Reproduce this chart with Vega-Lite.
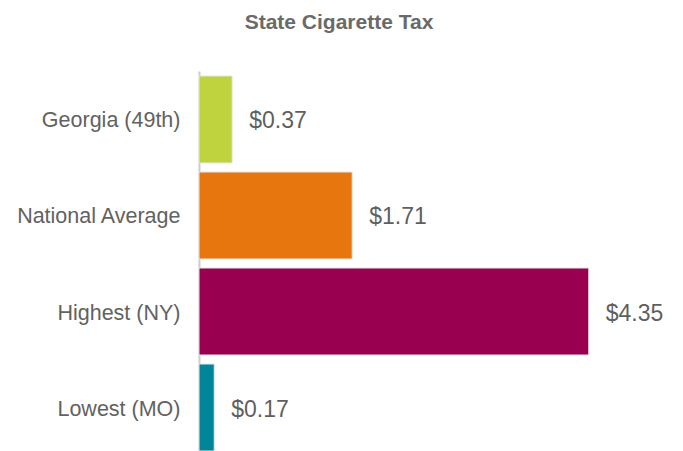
{
  "$schema": "https://vega.github.io/schema/vega-lite/v6.json",
  "autosize": {"type": "none"},
  "padding": {"left": 199, "top": 71, "right": 36, "bottom": 0},
  "width": 448,
  "height": 380,
  "background": "white",
  "title": {
    "text": "State Cigarette Tax",
    "anchor": "middle",
    "frame": "group",
    "dx": -84,
    "offset": 38,
    "font": "Liberation Sans",
    "fontSize": 21,
    "fontWeight": "bold",
    "color": "#6a6a6a"
  },
  "data": {
    "values": [
      {"category": "Georgia (49th)", "tax": 0.37},
      {"category": "National Average", "tax": 1.71},
      {"category": "Highest (NY)", "tax": 4.35},
      {"category": "Lowest (MO)", "tax": 0.17}
    ]
  },
  "config": {"view": {"stroke": null}},
  "encoding": {
    "y": {
      "field": "category",
      "type": "nominal",
      "sort": null,
      "scale": {"paddingInner": 0.094, "paddingOuter": 0.026, "align": 1},
      "axis": {
        "title": null,
        "ticks": false,
        "tickSize": 0,
        "labelPadding": 19,
        "labelOffset": 2,
        "labelFont": "Liberation Sans",
        "labelFontSize": 21.5,
        "labelColor": "#626262",
        "domainColor": "#cccccc",
        "domainWidth": 2
      }
    },
    "x": {
      "field": "tax",
      "type": "quantitative",
      "scale": {"domain": [0, 5]},
      "axis": null
    }
  },
  "layer": [
    {
      "mark": {"type": "bar", "stroke": "#e6e6e6", "strokeWidth": 1},
      "encoding": {
        "color": {
          "field": "category",
          "type": "nominal",
          "legend": null,
          "scale": {
            "domain": ["Georgia (49th)", "National Average", "Highest (NY)", "Lowest (MO)"],
            "range": ["#bed33e", "#e8760f", "#99004f", "#00869a"]
          }
        }
      }
    },
    {
      "mark": {
        "type": "text",
        "align": "left",
        "baseline": "middle",
        "dx": 17,
        "dy": 2,
        "font": "Liberation Sans",
        "fontSize": 23,
        "color": "#5f5f5f"
      },
      "encoding": {
        "text": {"field": "tax", "type": "quantitative", "format": "$.2f"}
      }
    }
  ]
}
